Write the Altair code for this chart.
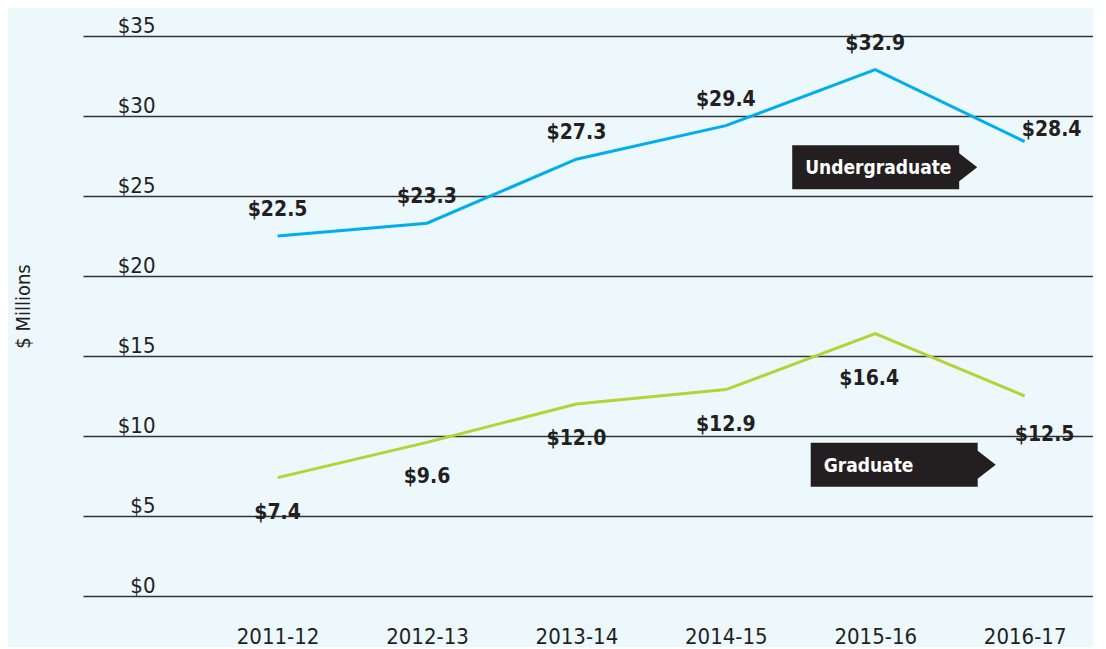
import altair as alt
import pandas as pd

years = ["2011-12", "2012-13", "2013-14", "2014-15", "2015-16", "2016-17"]
undergrad = [22.5, 23.3, 27.3, 29.4, 32.9, 28.4]
graduate = [7.4, 9.6, 12.0, 12.9, 16.4, 12.5]
series_names = ["Undergraduate", "Graduate"]
y_ticks = [0, 5, 10, 15, 20, 25, 30, 35]
tag_year = "2015-16"
tag_values = [26.8, 8.2]

rows = []
for name, vals in zip(series_names, [undergrad, graduate]):
    for yr, v in zip(years, vals):
        rows.append({"series": name, "year": yr, "value": v})
df = pd.DataFrame(rows)
tags = pd.DataFrame({"series": series_names, "year": [tag_year, tag_year], "value": tag_values})

FONT = "DejaVu Sans Condensed, DejaVu Sans, sans-serif"
INK = "#231f20"
BG = "#edf8fd"
COLORS = ["#00aeef", "#b5d334"]

x_enc = alt.X(
    "year:N", sort=years,
    scale=alt.Scale(type="point", padding=0.88, align=0.74),
    axis=alt.Axis(title=None, labelAngle=0, ticks=False, domain=False, grid=False,
                  labelFont=FONT, labelFontSize=22, labelColor=INK, labelPadding=30),
)
y_enc = alt.Y(
    "value:Q",
    scale=alt.Scale(domain=[0, 35], nice=False),
    axis=alt.Axis(values=y_ticks, labelExpr="'$' + datum.value", title="$ Millions",
                  ticks=False, tickSize=0, domain=False, grid=True,
                  gridColor="#333333", gridWidth=1.5,
                  labelFont=FONT, labelFontSize=22, labelColor=INK,
                  labelAlign="right", labelBaseline="alphabetic", labelPadding=-72,
                  labelOffset=-4,
                  titleFont=FONT, titleFontSize=20, titleFontWeight="normal",
                  titleColor=INK, titleX=-50, titleY=270, titleAngle=270,
                  titleAlign="center", titleBaseline="bottom"),
)

base = alt.Chart(df).encode(x=x_enc, y=y_enc).transform_calculate(
    label="'$' + format(datum.value, '.1f')"
)

lines = base.mark_line(strokeWidth=3).encode(
    color=alt.Color("series:N", scale=alt.Scale(domain=series_names, range=COLORS), legend=None)
)

txt = dict(font=FONT, fontSize=21, fontWeight="bold", color=INK, baseline="middle")
u_main = base.mark_text(dy=-26, **txt).encode(text="label:N").transform_filter(
    "datum.series == 'Undergraduate' && datum.year != '2016-17'")
u_last = base.mark_text(dx=27, dy=-12, **txt).encode(text="label:N").transform_filter(
    "datum.series == 'Undergraduate' && datum.year == '2016-17'")
g_main = base.mark_text(dy=35, **txt).encode(text="label:N").transform_filter(
    "datum.series == 'Graduate' && datum.year != '2015-16' && datum.year != '2016-17'")
g_peak = base.mark_text(dx=-6, dy=45, **txt).encode(text="label:N").transform_filter(
    "datum.series == 'Graduate' && datum.year == '2015-16'")
g_last = base.mark_text(dx=20, dy=39, **txt).encode(text="label:N").transform_filter(
    "datum.series == 'Graduate' && datum.year == '2016-17'")

TAG_PATH = "M-1,-0.238L0.805,-0.238L0.805,-0.151L1,0L0.805,0.151L0.805,0.238L-1,0.238Z"
tag_base = alt.Chart(tags).encode(x=alt.X("year:N", sort=years), y=alt.Y("value:Q"))
u_tag = tag_base.mark_point(shape=TAG_PATH, size=34225, filled=True, fill=INK, opacity=1,
                            strokeWidth=0, xOffset=9.5).transform_filter(
    "datum.series == 'Undergraduate'")
g_tag = tag_base.mark_point(shape=TAG_PATH, size=34225, filled=True, fill=INK, opacity=1,
                            strokeWidth=0, xOffset=28).transform_filter(
    "datum.series == 'Graduate'")
tag_txt = dict(font=FONT, fontSize=19, fontWeight="bold", color="white", align="left",
               baseline="middle", dy=1)
u_tag_t = tag_base.mark_text(dx=-70, **tag_txt).encode(text="series:N").transform_filter(
    "datum.series == 'Undergraduate'")
g_tag_t = tag_base.mark_text(dx=-51.5, **tag_txt).encode(text="series:N").transform_filter(
    "datum.series == 'Graduate'")

chart = alt.layer(
    lines, u_main, u_last, g_main, g_peak, g_last, u_tag, g_tag, u_tag_t, g_tag_t
).properties(
    width=1010, height=560, background=BG,
    padding={"left": 5, "top": 6, "right": 0, "bottom": 0},
).configure_view(stroke=None)

chart.save("out.html", embed_options={"renderer": "svg", "actions": False})
